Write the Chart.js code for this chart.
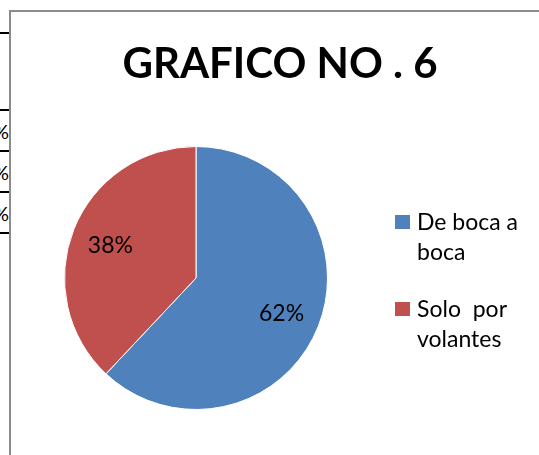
<!DOCTYPE html>
<html>
<head>
<meta charset="utf-8">
<script src="https://cdn.jsdelivr.net/npm/chart.js@4.4.1/dist/chart.umd.min.js"></script>
<style>
  html, body { margin: 0; padding: 0; background: #fff; }
  body { width: 539px; height: 455px; position: relative; overflow: hidden; font-family: Lato, "Open Sans", sans-serif; }
  #frame { position: absolute; left: 9px; top: 10px; width: 600px; height: 500px; border-left: 2px solid #8c8c8c; border-top: 2px solid #8c8c8c; box-sizing: border-box; }
  #c { position: absolute; left: 0; top: 0; }
  .tline { position: absolute; left: 0; width: 9px; height: 2px; background: #000; }
  .pct { position: absolute; left: 0; width: 9px; height: 24px; overflow: hidden; }
  .pct span { position: absolute; right: 0; top: 0; font: 20px Lato, sans-serif; color: #000; }
  #title { position: absolute; left: 80px; width: 400px; top: 36px; text-align: center; font: bold 42px Lato, sans-serif; color: #000; line-height: 52px; white-space: pre; }
  #legend { position: absolute; left: 395px; top: 206px; font: 23px Lato, sans-serif; color: #000; line-height: 30px; }
  .li { position: relative; padding-left: 22px; margin-bottom: 27px; }
  .sw { position: absolute; left: 0; top: 9px; width: 15px; height: 14px; }
  .lbl { position: absolute; font: 23px Lato, sans-serif; color: #000; transform: translate(-50%, -50%); white-space: nowrap; }
</style>
</head>
<body>
<div id="frame"></div>
<div class="tline" style="top:32px"></div>
<div class="tline" style="top:109px"></div>
<div class="tline" style="top:150px"></div>
<div class="tline" style="top:191px"></div>
<div class="tline" style="top:232px"></div>
<div class="pct" style="top:119px"><span>%</span></div>
<div class="pct" style="top:160px"><span>%</span></div>
<div class="pct" style="top:201px"><span>%</span></div>
<canvas id="c" width="539" height="455"></canvas>
<div id="title"></div>
<div id="legend"></div>
<div id="labels"></div>
<script>
const categories = ["De boca a boca", "Solo  por volantes"];
const legendLines = [["De boca a", "boca"], ["Solo  por", "volantes"]];
const values = [62, 38];
const colors = ["#4F81BD", "#C0504D"];
const chartTitle = "GRAFICO NO . 6";

document.getElementById('title').textContent = chartTitle;

const lg = document.getElementById('legend');
legendLines.forEach((lines, i) => {
  const d = document.createElement('div');
  d.className = 'li';
  d.innerHTML = '<div class="sw" style="background:' + colors[i] + '"></div>' + lines.map(l => '<div>' + l.replace(/ /g, '&nbsp;') + '</div>').join('');
  lg.appendChild(d);
});

const labelPlugin = {
  id: 'pctLabels',
  afterRender(chart) {
    const host = document.getElementById('labels');
    host.innerHTML = '';
    const meta = chart.getDatasetMeta(0);
    const total = values.reduce((a, b) => a + b, 0);
    meta.data.forEach((arc, i) => {
      const mid = (arc.startAngle + arc.endAngle) / 2;
      const r = arc.outerRadius * 0.70;
      const x = arc.x + Math.cos(mid) * r;
      const y = arc.y + Math.sin(mid) * r;
      const el = document.createElement('div');
      el.className = 'lbl';
      el.style.left = x + 'px';
      el.style.top = y + 'px';
      el.textContent = Math.round(values[i] / total * 100) + '%';
      host.appendChild(el);
    });
  }
};

new Chart(document.getElementById('c'), {
  type: 'pie',
  data: {
    labels: categories,
    datasets: [{ data: values, backgroundColor: colors, borderColor: '#ffffff', borderWidth: 1 }]
  },
  options: {
    responsive: false,
    animation: false,
    layout: { padding: { left: 64, right: 211, top: 146, bottom: 45 } },
    plugins: {
      legend: { display: false },
      tooltip: { enabled: false },
      title: { display: false }
    }
  },
  plugins: [labelPlugin]
});
</script>
</body>
</html>
